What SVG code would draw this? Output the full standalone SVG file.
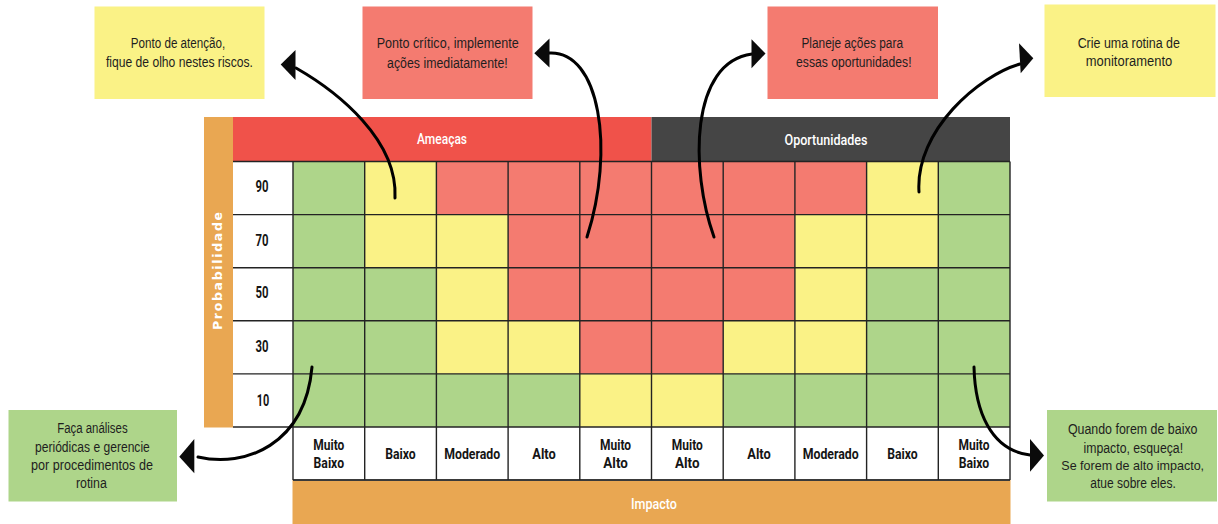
<svg xmlns="http://www.w3.org/2000/svg" width="1218" height="524" viewBox="0 0 1218 524">
<defs>
<style>
.g{fill:#aed58a}.y{fill:#faf286}.r{fill:#f47b70}
.note rect{stroke:none}
.note text{font-family:"Liberation Sans",Arial,sans-serif;font-size:14px;fill:#1e1e1e;text-anchor:middle}
.lbl{font-family:Roboto,"Liberation Sans",sans-serif;font-weight:700;font-size:15px;fill:#151515;text-anchor:middle}
.num{font-family:Roboto,"Liberation Sans",sans-serif;font-weight:700;font-size:16px;fill:#151515;text-anchor:middle}
.hdr{font-family:Roboto,"Liberation Sans",sans-serif;font-weight:500;font-size:14.5px;fill:#ffffff;text-anchor:middle}
.grid line{stroke:#232323;stroke-width:1.4}
.con path{fill:none;stroke:#000;stroke-width:3;stroke-linecap:round}
.con polygon{fill:#0b0b0b}
</style>
</defs>
<rect width="1218" height="524" fill="#ffffff"/>

<g id="header-ameacas">
<rect x="233" y="117" width="418.5" height="44.5" fill="#f0524a"/>
<text class="hdr" x="442" y="143.5" textLength="50" lengthAdjust="spacingAndGlyphs">Ameaças</text>
</g>
<g id="header-oportunidades">
<rect x="651.5" y="117" width="358.5" height="44.5" fill="#454545"/>
<text class="hdr" x="826" y="144.5" textLength="83" lengthAdjust="spacingAndGlyphs">Oportunidades</text>
</g>
<g id="axis-probabilidade">
<rect x="204" y="117" width="29" height="310.5" fill="#e9a752"/>
<text transform="translate(217,271) rotate(-90)" x="0" y="4.5" font-family="'DejaVu Sans',sans-serif" font-weight="700" font-size="12.5" fill="#ffffff" text-anchor="middle" textLength="118" lengthAdjust="spacing">Probabilidade</text>
</g>
<g id="axis-impacto">
<rect x="292.5" y="480" width="718" height="44" fill="#e9a752"/>
<text class="hdr" x="654" y="508.5" textLength="46" lengthAdjust="spacingAndGlyphs">Impacto</text>
</g>

<g id="matrix">
<rect x="233" y="161.5" width="60" height="265.5" fill="#ffffff"/>
<rect x="293" y="427" width="717" height="53" fill="#ffffff"/>
<!-- row 90 -->
<rect class="g" x="293" y="161.5" width="71.7" height="53.1"/>
<rect class="y" x="364.7" y="161.5" width="71.7" height="53.1"/>
<rect class="r" x="436.4" y="161.5" width="71.7" height="53.1"/>
<rect class="r" x="508.1" y="161.5" width="71.7" height="53.1"/>
<rect class="r" x="579.8" y="161.5" width="71.7" height="53.1"/>
<rect class="r" x="651.5" y="161.5" width="71.7" height="53.1"/>
<rect class="r" x="723.2" y="161.5" width="71.7" height="53.1"/>
<rect class="r" x="794.9" y="161.5" width="71.7" height="53.1"/>
<rect class="y" x="866.6" y="161.5" width="71.7" height="53.1"/>
<rect class="g" x="938.3" y="161.5" width="71.7" height="53.1"/>
<!-- row 70 -->
<rect class="g" x="293" y="214.6" width="71.7" height="53.1"/>
<rect class="y" x="364.7" y="214.6" width="71.7" height="53.1"/>
<rect class="y" x="436.4" y="214.6" width="71.7" height="53.1"/>
<rect class="r" x="508.1" y="214.6" width="71.7" height="53.1"/>
<rect class="r" x="579.8" y="214.6" width="71.7" height="53.1"/>
<rect class="r" x="651.5" y="214.6" width="71.7" height="53.1"/>
<rect class="r" x="723.2" y="214.6" width="71.7" height="53.1"/>
<rect class="y" x="794.9" y="214.6" width="71.7" height="53.1"/>
<rect class="y" x="866.6" y="214.6" width="71.7" height="53.1"/>
<rect class="g" x="938.3" y="214.6" width="71.7" height="53.1"/>
<!-- row 50 -->
<rect class="g" x="293" y="267.7" width="71.7" height="53.1"/>
<rect class="g" x="364.7" y="267.7" width="71.7" height="53.1"/>
<rect class="y" x="436.4" y="267.7" width="71.7" height="53.1"/>
<rect class="r" x="508.1" y="267.7" width="71.7" height="53.1"/>
<rect class="r" x="579.8" y="267.7" width="71.7" height="53.1"/>
<rect class="r" x="651.5" y="267.7" width="71.7" height="53.1"/>
<rect class="r" x="723.2" y="267.7" width="71.7" height="53.1"/>
<rect class="y" x="794.9" y="267.7" width="71.7" height="53.1"/>
<rect class="g" x="866.6" y="267.7" width="71.7" height="53.1"/>
<rect class="g" x="938.3" y="267.7" width="71.7" height="53.1"/>
<!-- row 30 -->
<rect class="g" x="293" y="320.8" width="71.7" height="53.1"/>
<rect class="g" x="364.7" y="320.8" width="71.7" height="53.1"/>
<rect class="y" x="436.4" y="320.8" width="71.7" height="53.1"/>
<rect class="y" x="508.1" y="320.8" width="71.7" height="53.1"/>
<rect class="r" x="579.8" y="320.8" width="71.7" height="53.1"/>
<rect class="r" x="651.5" y="320.8" width="71.7" height="53.1"/>
<rect class="y" x="723.2" y="320.8" width="71.7" height="53.1"/>
<rect class="y" x="794.9" y="320.8" width="71.7" height="53.1"/>
<rect class="g" x="866.6" y="320.8" width="71.7" height="53.1"/>
<rect class="g" x="938.3" y="320.8" width="71.7" height="53.1"/>
<!-- row 10 -->
<rect class="g" x="293" y="373.9" width="71.7" height="53.1"/>
<rect class="g" x="364.7" y="373.9" width="71.7" height="53.1"/>
<rect class="g" x="436.4" y="373.9" width="71.7" height="53.1"/>
<rect class="g" x="508.1" y="373.9" width="71.7" height="53.1"/>
<rect class="y" x="579.8" y="373.9" width="71.7" height="53.1"/>
<rect class="y" x="651.5" y="373.9" width="71.7" height="53.1"/>
<rect class="g" x="723.2" y="373.9" width="71.7" height="53.1"/>
<rect class="g" x="794.9" y="373.9" width="71.7" height="53.1"/>
<rect class="g" x="866.6" y="373.9" width="71.7" height="53.1"/>
<rect class="g" x="938.3" y="373.9" width="71.7" height="53.1"/>

<g class="grid">
<line x1="233" y1="161.5" x2="1010" y2="161.5"/>
<line x1="233" y1="214.6" x2="1010" y2="214.6"/>
<line x1="233" y1="267.7" x2="1010" y2="267.7"/>
<line x1="233" y1="320.8" x2="1010" y2="320.8"/>
<line x1="233" y1="373.9" x2="1010" y2="373.9"/>
<line x1="233" y1="427" x2="1010" y2="427"/>
<line x1="293" y1="480" x2="1010" y2="480" style="stroke-width:2.2;stroke:#3a3a3a"/>
<line x1="293" y1="161.5" x2="293" y2="480"/>
<line x1="364.7" y1="161.5" x2="364.7" y2="480"/>
<line x1="436.4" y1="161.5" x2="436.4" y2="480"/>
<line x1="508.1" y1="161.5" x2="508.1" y2="480"/>
<line x1="579.8" y1="161.5" x2="579.8" y2="480"/>
<line x1="651.5" y1="161.5" x2="651.5" y2="480"/>
<line x1="723.2" y1="161.5" x2="723.2" y2="480"/>
<line x1="794.9" y1="161.5" x2="794.9" y2="480"/>
<line x1="866.6" y1="161.5" x2="866.6" y2="480"/>
<line x1="938.3" y1="161.5" x2="938.3" y2="480"/>
<line x1="1010" y1="161.5" x2="1010" y2="480"/>
</g>

<text class="num" x="262" y="192" textLength="13" lengthAdjust="spacingAndGlyphs">90</text>
<text class="num" x="262" y="246" textLength="13" lengthAdjust="spacingAndGlyphs">70</text>
<text class="num" x="262" y="297.5" textLength="13" lengthAdjust="spacingAndGlyphs">50</text>
<text class="num" x="262" y="351.5" textLength="13" lengthAdjust="spacingAndGlyphs">30</text>
<text class="num" x="263" y="406" textLength="12.5" lengthAdjust="spacingAndGlyphs">10</text>

<text class="lbl" x="328.8" y="450" textLength="31" lengthAdjust="spacingAndGlyphs">Muito</text>
<text class="lbl" x="328.8" y="468" textLength="30.5" lengthAdjust="spacingAndGlyphs">Baixo</text>
<text class="lbl" x="400.5" y="459" textLength="30.5" lengthAdjust="spacingAndGlyphs">Baixo</text>
<text class="lbl" x="472.2" y="459" textLength="56" lengthAdjust="spacingAndGlyphs">Moderado</text>
<text class="lbl" x="544" y="459" textLength="23.5" lengthAdjust="spacingAndGlyphs">Alto</text>
<text class="lbl" x="615.6" y="450" textLength="31" lengthAdjust="spacingAndGlyphs">Muito</text>
<text class="lbl" x="615.6" y="468" textLength="24.5" lengthAdjust="spacingAndGlyphs">Alto</text>
<text class="lbl" x="687.3" y="450" textLength="31" lengthAdjust="spacingAndGlyphs">Muito</text>
<text class="lbl" x="687.3" y="468" textLength="24.5" lengthAdjust="spacingAndGlyphs">Alto</text>
<text class="lbl" x="759" y="459" textLength="23.5" lengthAdjust="spacingAndGlyphs">Alto</text>
<text class="lbl" x="830.7" y="459" textLength="56" lengthAdjust="spacingAndGlyphs">Moderado</text>
<text class="lbl" x="902.5" y="459" textLength="30.5" lengthAdjust="spacingAndGlyphs">Baixo</text>
<text class="lbl" x="974" y="450" textLength="31" lengthAdjust="spacingAndGlyphs">Muito</text>
<text class="lbl" x="974" y="468" textLength="30.5" lengthAdjust="spacingAndGlyphs">Baixo</text>
</g>

<g id="note-atencao" class="note">
<rect class="y" x="94.5" y="6.5" width="170" height="92.5"/>
<text x="178" y="48" textLength="94.5" lengthAdjust="spacingAndGlyphs">Ponto de atenção,</text>
<text x="179.4" y="66.5" textLength="147" lengthAdjust="spacingAndGlyphs">fique de olho nestes riscos.</text>
</g>
<g id="note-critico" class="note">
<rect class="r" x="362.5" y="6.5" width="170" height="92.5"/>
<text x="447.7" y="48" textLength="142" lengthAdjust="spacingAndGlyphs">Ponto crítico, implemente</text>
<text x="447.4" y="67.5" textLength="120.7" lengthAdjust="spacingAndGlyphs">ações imediatamente!</text>
</g>
<g id="note-planeje" class="note">
<rect class="r" x="767.5" y="6.5" width="170.5" height="92.5"/>
<text x="852.2" y="48" textLength="101.6" lengthAdjust="spacingAndGlyphs">Planeje ações para</text>
<text x="853.8" y="67" textLength="115.5" lengthAdjust="spacingAndGlyphs">essas oportunidades!</text>
</g>
<g id="note-monitoramento" class="note">
<rect class="y" x="1044.5" y="4.5" width="171" height="92.5"/>
<text x="1128.8" y="47.5" textLength="102.3" lengthAdjust="spacingAndGlyphs">Crie uma rotina de</text>
<text x="1129" y="66" textLength="86.4" lengthAdjust="spacingAndGlyphs">monitoramento</text>
</g>
<g id="note-analises" class="note">
<rect class="g" x="8.5" y="410" width="168.5" height="91.5"/>
<text x="92.4" y="433" textLength="70.4" lengthAdjust="spacingAndGlyphs">Faça análises</text>
<text x="92.4" y="451.5" textLength="114.8" lengthAdjust="spacingAndGlyphs">periódicas e gerencie</text>
<text x="92" y="470" textLength="121.8" lengthAdjust="spacingAndGlyphs">por procedimentos de</text>
<text x="91.4" y="488" textLength="31" lengthAdjust="spacingAndGlyphs">rotina</text>
</g>
<g id="note-impacto" class="note">
<rect class="g" x="1047" y="410" width="170" height="91.5"/>
<text x="1132.7" y="434" textLength="129.6" lengthAdjust="spacingAndGlyphs">Quando forem de baixo</text>
<text x="1133.3" y="452.5" textLength="99.6" lengthAdjust="spacingAndGlyphs">impacto, esqueça!</text>
<text x="1132.7" y="470" font-size="13" style="font-size:13px" textLength="142.8" lengthAdjust="spacingAndGlyphs">Se forem de alto impacto,</text>
<text x="1133" y="487.5" textLength="85.6" lengthAdjust="spacingAndGlyphs">atue sobre eles.</text>
</g>

<g id="connectors" class="con">
<path d="M395,198 C398,140 338,92 296,68"/>
<polygon points="280.7,64.5 295.5,50 295.5,80"/>
<path d="M587,237 C615,150 600,50 549,53"/>
<polygon points="534.3,53.3 549.5,38.5 549.5,67.5"/>
<path d="M714,237 C690,170 690,62 752,54"/>
<polygon points="765.5,53.5 751.5,39.3 751.5,68.3"/>
<path d="M919,192 C915,130 980,75 1020,64"/>
<polygon points="1033.3,58.3 1019,43.3 1020.7,73.3"/>
<path d="M312,367 C305,445 245,468 198,457"/>
<polygon points="179.3,456.7 194.3,439 194.3,473.3"/>
<path d="M974,367 C975,410 990,450 1030,455"/>
<polygon points="1044,455.5 1030,439 1030,471.7"/>
</g>
</svg>
